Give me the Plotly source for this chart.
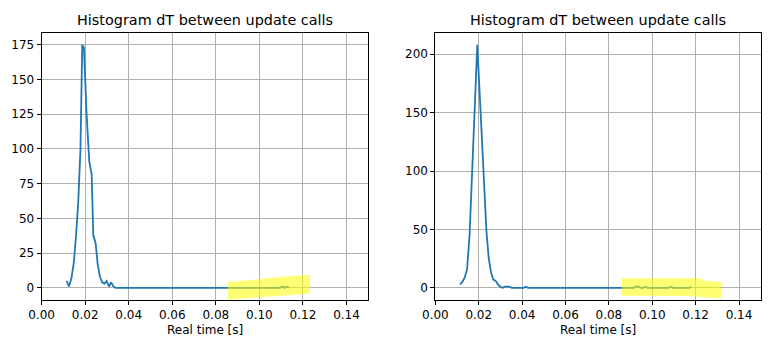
import plotly.graph_objects as go

# ---------------- data ----------------
left_x = [0.01151, 0.01257, 0.01372, 0.01477, 0.01578, 0.01683, 0.01784, 0.01867,
          0.01945, 0.02060, 0.02188, 0.02298, 0.02372, 0.02482, 0.02573, 0.02679,
          0.02784, 0.02885, 0.02986, 0.03092, 0.03197, 0.03298, 0.03399,
          0.1094, 0.1105, 0.1115, 0.1126, 0.1136]
left_y = [5, 1, 7, 18, 37, 62, 100, 175,
          173, 127, 91, 82, 38, 32, 17, 8,
          4, 3, 5, 1, 4, 1, 0,
          0, 1, 0, 1, 0]

right_x = [0.01134, 0.01244, 0.01355, 0.01461, 0.01576, 0.01687, 0.01806, 0.01931,
           0.02037, 0.02143, 0.02249, 0.02355, 0.02461, 0.02567, 0.02673, 0.02779,
           0.02885, 0.02991, 0.03097, 0.03203, 0.03309, 0.03415, 0.03521,
           0.04065, 0.04171, 0.04276,
           0.0915, 0.0926, 0.0937, 0.0947, 0.0958, 0.0968, 0.0979,
           0.1075, 0.1086, 0.1096, 0.1170, 0.1181]
right_y = [3, 5, 9, 16, 45, 100, 155, 208,
           168, 126, 80, 48, 25, 13, 7, 6,
           3, 1, 0, 1, 1, 1, 0,
           0, 1, 0,
           0, 1, 1, 0, 0, 1, 0,
           0, 1, 0, 0, 1]

title_text = "Histogram dT between update calls"
xlabel_text = "Real time [s]"
x_ticks = [0.00, 0.02, 0.04, 0.06, 0.08, 0.10, 0.12, 0.14]
left_yticks = [0, 25, 50, 75, 100, 125, 150, 175]
right_yticks = [0, 50, 100, 150, 200]

# ---------------- layout geometry ----------------
W, H = 771, 345
FONT = "DejaVu Sans"
LINE_COLOR = "#1f77b4"


def px(x, y):
    return x / W, 1 - y / H


L_dom = [41.6 / W, 368.3 / W]
R_dom = [435.4 / W, 760.7 / W]
Y_dom = [1 - 300 / H, 1 - 32.7 / H]

fig = go.Figure()
fig.add_trace(go.Scatter(x=left_x, y=left_y, mode="lines",
                         line=dict(color=LINE_COLOR, width=1.8),
                         xaxis="x", yaxis="y", showlegend=False))
fig.add_trace(go.Scatter(x=right_x, y=right_y, mode="lines",
                         line=dict(color=LINE_COLOR, width=1.8),
                         xaxis="x2", yaxis="y2", showlegend=False))

axis_common = dict(
    showline=True, linecolor="black", linewidth=1, mirror=True,
    showgrid=True, gridcolor="#b0b0b0", gridwidth=1, zeroline=False,
    ticks="outside", ticklen=4, tickwidth=1, tickcolor="black",
    tickfont=dict(family=FONT, size=12, color="black"),
    automargin=False,
)

fig.update_layout(
    width=W, height=H,
    margin=dict(l=0, r=0, t=0, b=0),
    paper_bgcolor="white", plot_bgcolor="white",
    font=dict(family=FONT, size=12, color="black"),
    xaxis=dict(domain=L_dom, range=[0, 0.15], tickvals=x_ticks, tickformat=".2f",
               anchor="y", **axis_common),
    yaxis=dict(domain=Y_dom, range=[-8.75, 183.75], tickvals=left_yticks,
               anchor="x", **axis_common),
    xaxis2=dict(domain=R_dom, range=[0, 0.15], tickvals=x_ticks, tickformat=".2f",
                anchor="y2", **axis_common),
    yaxis2=dict(domain=Y_dom, range=[-10.4, 218.4], tickvals=right_yticks,
                anchor="x2", **axis_common),
)

annotations = []
for dom in (L_dom, R_dom):
    cx = (dom[0] + dom[1]) / 2
    annotations.append(dict(text=title_text, x=cx, y=px(0, 20.5)[1], xref="paper", yref="paper",
                            xanchor="center", yanchor="middle", showarrow=False,
                            font=dict(family=FONT, size=14.4, color="black")))
    annotations.append(dict(text=xlabel_text, x=cx, y=px(0, 330)[1], xref="paper", yref="paper",
                            xanchor="center", yanchor="middle", showarrow=False,
                            font=dict(family=FONT, size=12, color="black")))
fig.update_layout(annotations=annotations)


def poly(points):
    pts = [px(x, y) for x, y in points]
    return "M " + " L ".join(f"{a:.5f},{b:.5f}" for a, b in pts) + " Z"


left_hl = [(228, 282), (260, 279), (290, 276), (310, 275), (310, 293.5), (266, 297), (228, 299.5)]
right_hl = [(622, 278.3), (700, 278.3), (706, 281), (721, 281.7), (721, 298.3), (706, 297.5),
            (690, 296), (622, 295.7)]
for pts in (left_hl, right_hl):
    fig.add_shape(type="path", path=poly(pts), xref="paper", yref="paper",
                  fillcolor="rgba(255,255,0,0.55)", line=dict(width=0), layer="above")

fig.write_html("out.html")
